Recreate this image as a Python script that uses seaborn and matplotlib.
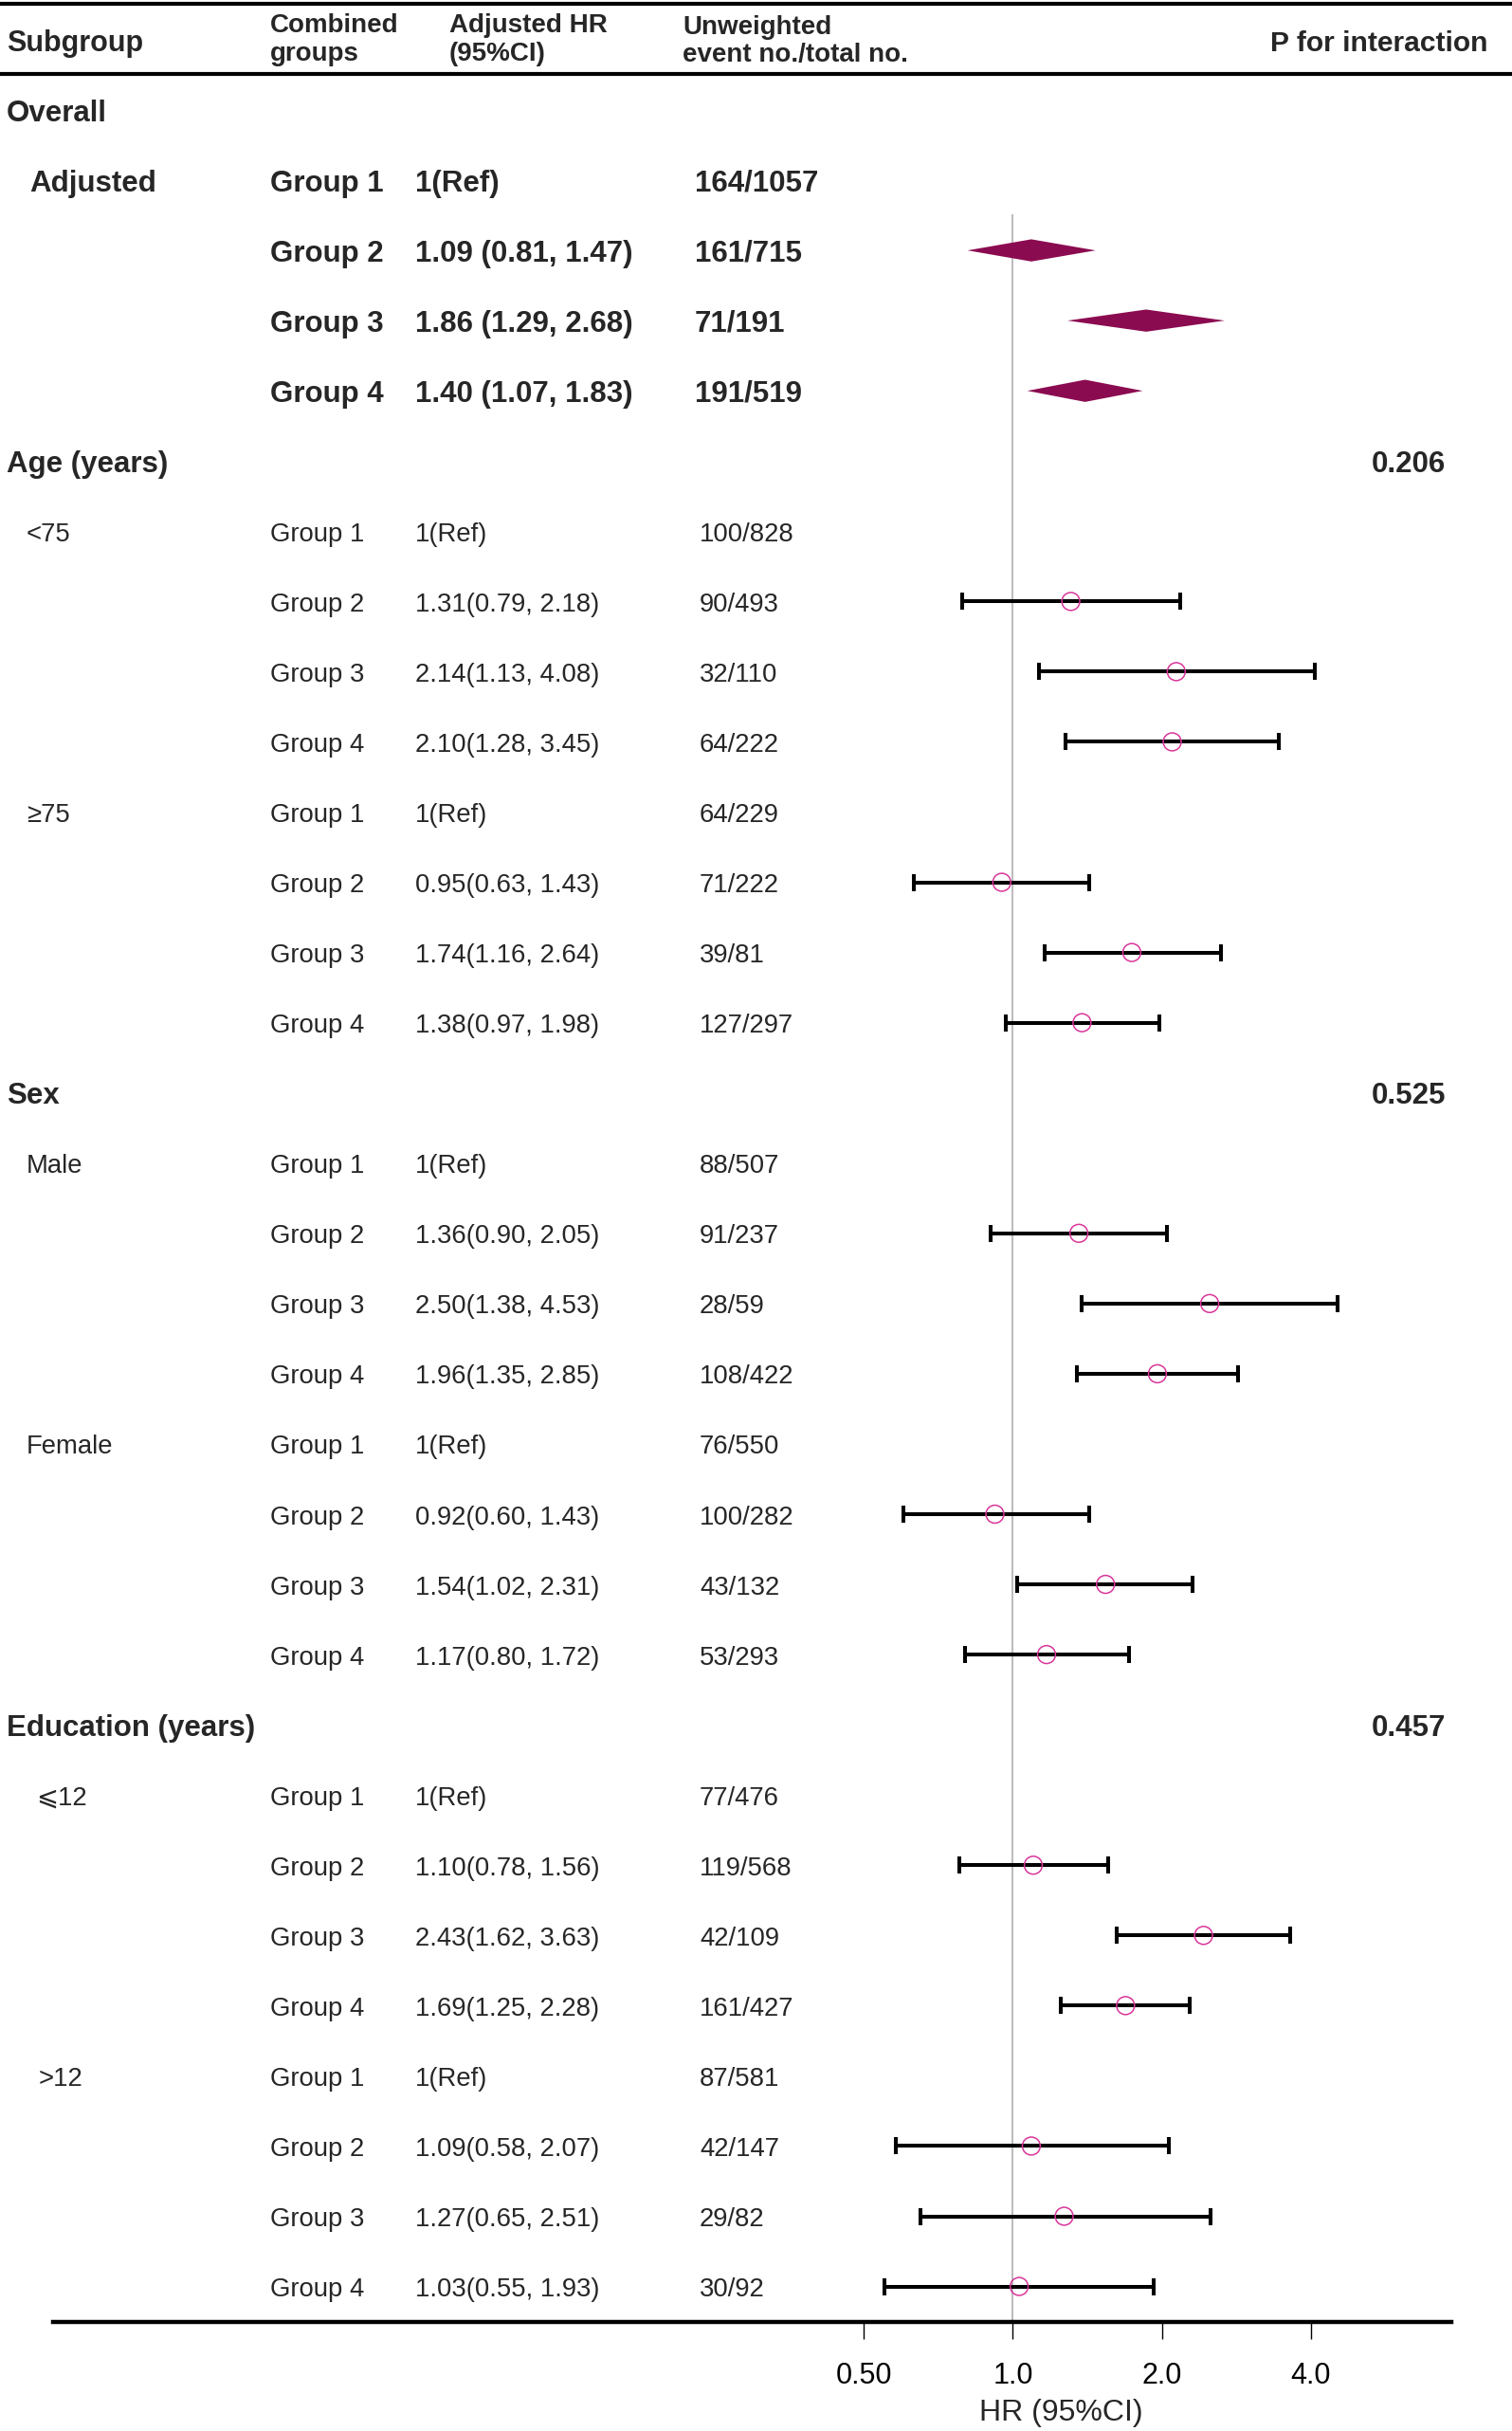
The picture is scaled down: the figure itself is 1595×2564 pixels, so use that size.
import numpy as np
import pandas as pd
import matplotlib
matplotlib.use("Agg")
import matplotlib.pyplot as plt
import matplotlib.transforms as mtransforms
from matplotlib.lines import Line2D
import seaborn as sns

nan = np.nan

# ---- data ----
groups = ["Group 1", "Group 2", "Group 3", "Group 4"]

overall_hr = [1.00, 1.09, 1.86, 1.40]
overall_lo = [nan, 0.81, 1.29, 1.07]
overall_hi = [nan, 1.47, 2.68, 1.83]
overall_events = [164, 161, 71, 191]
overall_totals = [1057, 715, 191, 519]

factors = ["Age (years)", "Sex", "Education (years)"]
p_interaction = ["0.206", "0.525", "0.457"]
strata = [["<75", "≥75"], ["Male", "Female"], ["⩽12", ">12"]]

strata_hr = [
    [1.00, 1.31, 2.14, 2.10],  # <75
    [1.00, 0.95, 1.74, 1.38],  # >=75
    [1.00, 1.36, 2.50, 1.96],  # Male
    [1.00, 0.92, 1.54, 1.17],  # Female
    [1.00, 1.10, 2.43, 1.69],  # <=12
    [1.00, 1.09, 1.27, 1.03],  # >12
]
strata_lo = [
    [nan, 0.79, 1.13, 1.28],
    [nan, 0.63, 1.16, 0.97],
    [nan, 0.90, 1.38, 1.35],
    [nan, 0.60, 1.02, 0.80],
    [nan, 0.78, 1.62, 1.25],
    [nan, 0.58, 0.65, 0.55],
]
strata_hi = [
    [nan, 2.18, 4.08, 3.45],
    [nan, 1.43, 2.64, 1.98],
    [nan, 2.05, 4.53, 2.85],
    [nan, 1.43, 2.31, 1.72],
    [nan, 1.56, 3.63, 2.28],
    [nan, 2.07, 2.51, 1.93],
]
strata_events = [
    [100, 90, 32, 64],
    [64, 71, 39, 127],
    [88, 91, 28, 108],
    [76, 100, 43, 53],
    [77, 119, 42, 161],
    [87, 42, 29, 30],
]
strata_totals = [
    [828, 493, 110, 222],
    [229, 222, 81, 297],
    [507, 237, 59, 422],
    [550, 282, 132, 293],
    [476, 568, 109, 427],
    [581, 147, 82, 92],
]

x_ticks = [0.5, 1.0, 2.0, 4.0]
x_tick_labels = ["0.50", "1.0", "2.0", "4.0"]

# ---- build row table ----
rows = []
rows.append(dict(kind="title", label="Overall"))
for i, g in enumerate(groups):
    hr, lo, hi = overall_hr[i], overall_lo[i], overall_hi[i]
    txt = "1(Ref)" if np.isnan(lo) else f"{hr:.2f} ({lo:.2f}, {hi:.2f})"
    rows.append(dict(kind="overall", label="Adjusted" if i == 0 else "", group=g,
                     hr_txt=txt, ev_txt=f"{overall_events[i]}/{overall_totals[i]}",
                     hr=hr, lo=lo, hi=hi))
k = 0
for f, fac in enumerate(factors):
    rows.append(dict(kind="factor", label=fac, p=p_interaction[f]))
    for s in strata[f]:
        for i, g in enumerate(groups):
            hr, lo, hi = strata_hr[k][i], strata_lo[k][i], strata_hi[k][i]
            txt = "1(Ref)" if np.isnan(lo) else f"{hr:.2f}({lo:.2f}, {hi:.2f})"
            rows.append(dict(kind="stratum", label=s if i == 0 else "", group=g,
                             hr_txt=txt, ev_txt=f"{strata_events[k][i]}/{strata_totals[k][i]}",
                             hr=hr, lo=lo, hi=hi))
        k += 1
df = pd.DataFrame(rows)
df["row"] = np.arange(len(df))

# ---- layout (pixels) ----
W, H = 1595, 2564
ROW0, STEP = 116, 74.05
AX_L, AX_R, AX_B = 56, 1531, 2449
ONE_PX, OCT_PX = 1068.4, 157.1
TXT_DY = 3.5 / STEP  # text sits a touch lower than the marks

sns.set_style("white")
plt.rcParams["font.family"] = ["Liberation Sans", "DejaVu Sans", "Noto Sans CJK SC"]

fig = plt.figure(figsize=(W / 100, H / 100), dpi=100)
ax = fig.add_axes([AX_L / W, (H - AX_B) / H, (AX_R - AX_L) / W, AX_B / H])
ax.set_xscale("log", base=2)

DIAMOND = "#8B0B50"
CIRCLE = "#D9369A"

# reference line
ax.vlines(1.0, (226 - ROW0) / STEP, (AX_B - ROW0) / STEP, color="#BDBDBD", lw=1.5, zorder=1)

# diamonds for overall estimates
ov = df[(df["kind"] == "overall") & df["lo"].notna()]
h = 0.158
for _, r in ov.iterrows():
    ax.fill([r["lo"], r["hr"], r["hi"], r["hr"]],
            [r["row"], r["row"] - h, r["row"], r["row"] + h],
            color=DIAMOND, lw=0, zorder=3)

# error bars for strata
st = df[(df["kind"] == "stratum") & df["lo"].notna()]
ax.errorbar(st["hr"], st["row"],
            xerr=[st["hr"] - st["lo"], st["hi"] - st["hr"]],
            fmt="none", ecolor="black", elinewidth=2.9, capsize=6.3, capthick=2.9, zorder=2)
sns.scatterplot(data=st, x="hr", y="row", marker="o", s=185, facecolors="none",
                edgecolor=CIRCLE, linewidth=1.1, legend=False, ax=ax, zorder=4)

# axes cosmetics
ax.set_xlim(2 ** ((AX_L - ONE_PX) / OCT_PX), 2 ** ((AX_R - ONE_PX) / OCT_PX))
ax.set_ylim((AX_B - ROW0) / STEP, -ROW0 / STEP)
ax.set_xlabel("")
ax.set_ylabel("")
ax.set_yticks([])
ax.xaxis.set_major_locator(matplotlib.ticker.FixedLocator(x_ticks))
ax.xaxis.set_minor_locator(matplotlib.ticker.NullLocator())
ax.set_xticklabels(x_tick_labels)
ax.tick_params(axis="x", direction="out", length=13, width=1.0, labelsize=22, pad=17,
               bottom=True, colors="black")
for sp in ["top", "left", "right"]:
    ax.spines[sp].set_visible(False)
ax.spines["bottom"].set_linewidth(3.2)
ax.spines["bottom"].set_color("black")
ax.set_facecolor("none")
ax.text(1.25, (2545 - ROW0) / STEP, "HR (95%CI)", ha="center", va="center", fontsize=23)

# ---- table text ----
trans = mtransforms.blended_transform_factory(fig.transFigure, ax.transData)
label_x = {"Adjusted": 31, "<75": 28, "≥75": 28, "Male": 28, "Female": 28, "⩽12": 38, ">12": 41}

for _, r in df.iterrows():
    y = r["row"] + TXT_DY
    if r["kind"] in ("title", "factor"):
        ax.text(7 / W, y, r["label"], transform=trans, ha="left", va="center",
                fontsize=22.5, fontweight="bold")
        if r["kind"] == "factor":
            ax.text(1525 / W, y, r["p"], transform=trans, ha="right", va="center",
                    fontsize=22.5, fontweight="bold")
        continue
    bold = r["kind"] == "overall"
    fw = "bold" if bold else "normal"
    fs = 22.5 if bold else 19.8
    if r["label"]:
        ax.text(label_x[r["label"]] / W, y, r["label"], transform=trans, ha="left",
                va="center", fontsize=fs, fontweight=fw)
    ax.text(285 / W, y, r["group"], transform=trans, ha="left", va="center",
            fontsize=fs, fontweight=fw)
    ax.text(438 / W, y, r["hr_txt"], transform=trans, ha="left", va="center",
            fontsize=fs, fontweight=fw)
    ax.text((733 if bold else 738) / W, y, r["ev_txt"], transform=trans, ha="left",
            va="center", fontsize=fs, fontweight=fw)

# ---- header ----
def fy(p):
    return 1 - p / H

fig.text(7 / W, fy(46), "Subgroup", ha="left", va="center", fontsize=22, fontweight="bold")
fig.text(285 / W, fy(42), "Combined\ngroups", ha="left", va="center", fontsize=20,
         fontweight="bold", linespacing=1.15)
fig.text(474 / W, fy(42), "Adjusted HR\n(95%CI)", ha="left", va="center", fontsize=20,
         fontweight="bold", linespacing=1.15)
fig.text(720 / W, fy(44), "Unweighted\nevent no./total no.", ha="left", va="center",
         fontsize=20, fontweight="bold", linespacing=1.15)
fig.text(1570 / W, fy(46), "P for interaction", ha="right", va="center", fontsize=21.6,
         fontweight="bold")
fig.add_artist(Line2D([0, 1], [fy(4), fy(4)], transform=fig.transFigure, color="black", lw=3))
fig.add_artist(Line2D([0, 1], [fy(78), fy(78)], transform=fig.transFigure, color="black", lw=3))

fig.savefig("out.png", dpi=100)
